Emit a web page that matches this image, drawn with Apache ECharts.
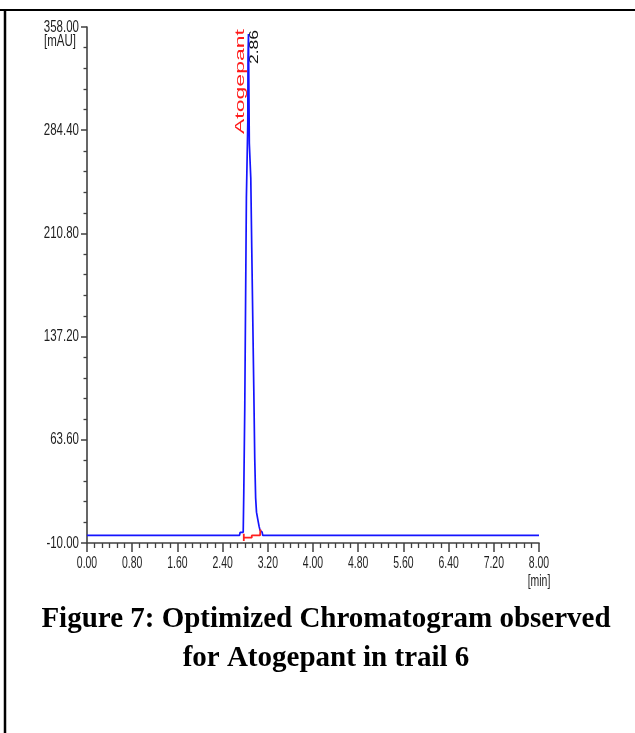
<!DOCTYPE html>
<html>
<head>
<meta charset="utf-8">
<script src="https://cdn.jsdelivr.net/npm/echarts@6/dist/echarts.min.js"></script>
<style>
  html, body { margin: 0; padding: 0; background: #ffffff; }
  #chart { width: 635px; height: 733px; }
</style>
</head>
<body>
<div id="chart"></div>
<script>
// ---- data ----
const timeMin   = [0.00, 2.70, 2.71, 2.765, 2.775, 2.792, 2.821, 2.846, 2.850, 2.858, 2.868, 2.873, 2.899, 2.916, 2.934, 2.952, 2.969, 2.985, 3.000, 3.022, 3.045, 3.063, 3.070, 3.100, 3.110, 8.00];
const signalMAU = [-4.6, -4.6, -2.4, -2.4, 26.0, 85.0, 236.0, 290.0, 336.0, 353.0, 352.0, 275.0, 250.0, 200.0, 150.0, 100.0, 50.0, 22.0, 12.0, 7.0, 2.0, -1.0, -2.3, -2.3, -4.6, -4.6];

const intTime   = [2.775, 2.775, 2.775, 2.916, 2.916, 3.063, 3.070];
const intMAU    = [-3.4, -8.6, -6.2, -6.2, -4.6, -4.6, -0.3];

const yMajorTicks = [-10.00, 63.60, 137.20, 210.80, 284.40, 358.00];
const xMajorTicks = [0.00, 0.80, 1.60, 2.40, 3.20, 4.00, 4.80, 5.60, 6.40, 7.20, 8.00];

const peakName = 'Atogepant';
const peakRT = 2.86;
const peakHeight = 353;

const yAxisUnit = '[mAU]';
const xAxisUnit = '[min]';
const captionLines = ['Figure 7: Optimized Chromatogram observed', 'for Atogepant in trail 6'];

// ---- build ----
const traceData = timeMin.map((t, i) => [t, signalMAU[i]]);
const intData = intTime.map((t, i) => [t, intMAU[i]]);
const yMinorTicks = [];
for (let i = 0; i < yMajorTicks.length - 1; i++) {
  const a = yMajorTicks[i], b = yMajorTicks[i + 1];
  for (let k = 1; k < 5; k++) yMinorTicks.push(a + (b - a) * k / 5);
}

const axisColor = '#404040';

const chart = echarts.init(document.getElementById('chart'), null, { renderer: 'canvas' });

const option = {
  backgroundColor: '#ffffff',
  animation: false,
  grid: { left: 87, right: 96, top: 27, bottom: 190, outerBoundsMode: 'none', containLabel: false },
  xAxis: {
    type: 'value',
    min: xMajorTicks[0], max: xMajorTicks[xMajorTicks.length - 1], interval: xMajorTicks[1] - xMajorTicks[0],
    axisLine: { onZero: false, lineStyle: { color: axisColor, width: 1.6 } },
    axisTick: { length: 9, lineStyle: { color: axisColor, width: 1.5 } },
    minorTick: { show: true, splitNumber: 6, length: 5, lineStyle: { color: axisColor, width: 1.3 } },
    splitLine: { show: false },
    minorSplitLine: { show: false },
    axisLabel: { show: false }
  },
  yAxis: [{
    type: 'value',
    min: yMajorTicks[0], max: yMajorTicks[yMajorTicks.length - 1],
    axisLine: { show: true, lineStyle: { color: axisColor, width: 1.6 } },
    axisTick: { show: true, length: 6, customValues: yMajorTicks, lineStyle: { color: axisColor, width: 1.5 } },
    splitLine: { show: false },
    axisLabel: { show: false }
  }, {
    type: 'value',
    position: 'left',
    min: yMajorTicks[0], max: yMajorTicks[yMajorTicks.length - 1],
    axisLine: { show: false },
    axisTick: { show: true, length: 3.5, customValues: yMinorTicks, lineStyle: { color: axisColor, width: 1.3 } },
    axisLabel: { show: false },
    splitLine: { show: false }
  }],
  series: [{
    type: 'line',
    data: traceData,
    showSymbol: false,
    symbol: 'none',
    lineStyle: { color: '#1414ff', width: 1.7 },
    z: 3
  }, {
    type: 'line',
    data: intData,
    showSymbol: false,
    symbol: 'none',
    lineStyle: { color: '#ff1f1f', width: 1.8 },
    z: 4
  }]
};
chart.setOption(option);

// the instrument export is stretched vertically: labels are tall and narrow
function textWidth(str, font) {
  const c = document.createElement('canvas').getContext('2d');
  c.font = font;
  return c.measureText(str).width;
}

const sansFont = "'Liberation Sans', Arial, sans-serif";
const tickFontY = '11.5px ' + sansFont;
const tickFontX = '11px ' + sansFont;
const labelColor = '#1e1e1e';
const graphics = [
  { type: 'line', silent: true, shape: { x1: 0, y1: 10, x2: 635, y2: 10 }, style: { stroke: '#000', lineWidth: 2 } },
  { type: 'line', silent: true, shape: { x1: 5, y1: 10, x2: 5, y2: 733 }, style: { stroke: '#000', lineWidth: 2.5 } }
];

// y tick labels, placed through the y axis scale
yMajorTicks.forEach(v => {
  const p = chart.convertToPixel({ xAxisIndex: 0, yAxisIndex: 0 }, [xMajorTicks[0], v]);
  graphics.push({
    type: 'text', silent: true, x: p[0] - 8, y: p[1], scaleX: 1, scaleY: 1.45,
    style: { text: v.toFixed(2), font: tickFontY, fill: labelColor, align: 'right', verticalAlign: 'middle' }
  });
});
// x tick labels, placed through the x axis scale
xMajorTicks.forEach(v => {
  const p = chart.convertToPixel({ xAxisIndex: 0, yAxisIndex: 0 }, [v, yMajorTicks[0]]);
  graphics.push({
    type: 'text', silent: true, x: p[0], y: p[1] + 20.5, scaleX: 0.95, scaleY: 1.5,
    style: { text: v.toFixed(2), font: tickFontX, fill: labelColor, align: 'center', verticalAlign: 'middle' }
  });
});
// axis units
const topLeft = chart.convertToPixel({ xAxisIndex: 0, yAxisIndex: 0 }, [xMajorTicks[0], yMajorTicks[yMajorTicks.length - 1]]);
graphics.push({
  type: 'text', silent: true, x: topLeft[0] - 11, y: topLeft[1] + 14.5, scaleY: 1.45,
  style: { text: yAxisUnit, font: tickFontY, fill: labelColor, align: 'right', verticalAlign: 'middle' }
});
const bottomRight = chart.convertToPixel({ xAxisIndex: 0, yAxisIndex: 0 }, [xMajorTicks[xMajorTicks.length - 1], yMajorTicks[0]]);
graphics.push({
  type: 'text', silent: true, x: bottomRight[0], y: bottomRight[1] + 38, scaleX: 0.95, scaleY: 1.5,
  style: { text: xAxisUnit, font: tickFontX, fill: labelColor, align: 'center', verticalAlign: 'middle' }
});

// peak annotations
const peakPx = chart.convertToPixel({ xAxisIndex: 0, yAxisIndex: 0 }, [peakRT, peakHeight]);
const nameFont = "13px " + sansFont;
const rtFont = "12.5px " + sansFont;
graphics.push({
  type: 'text', silent: true,
  x: peakPx[0] - 8, y: peakPx[1] - 5,
  rotation: Math.PI / 2, scaleX: 105 / textWidth(peakName, nameFont), scaleY: 1,
  style: { text: peakName, font: nameFont, fill: '#ff1a1a', align: 'right', verticalAlign: 'middle' }
});
graphics.push({
  type: 'text', silent: true,
  x: peakPx[0] + 5.5, y: peakPx[1] - 4,
  rotation: Math.PI / 2, scaleX: 34 / textWidth(peakRT.toFixed(2), rtFont), scaleY: 1,
  style: { text: peakRT.toFixed(2), font: rtFont, fill: '#111', align: 'right', verticalAlign: 'middle' }
});

// caption
graphics.push({
  type: 'text', silent: true,
  x: 326, y: 600,
  style: {
    text: captionLines.join('\n'),
    font: "bold 29px 'Liberation Serif', 'Times New Roman', serif",
    fill: '#000', align: 'center', verticalAlign: 'top', lineHeight: 39
  }
});

chart.setOption({ graphic: graphics });
</script>
</body>
</html>
